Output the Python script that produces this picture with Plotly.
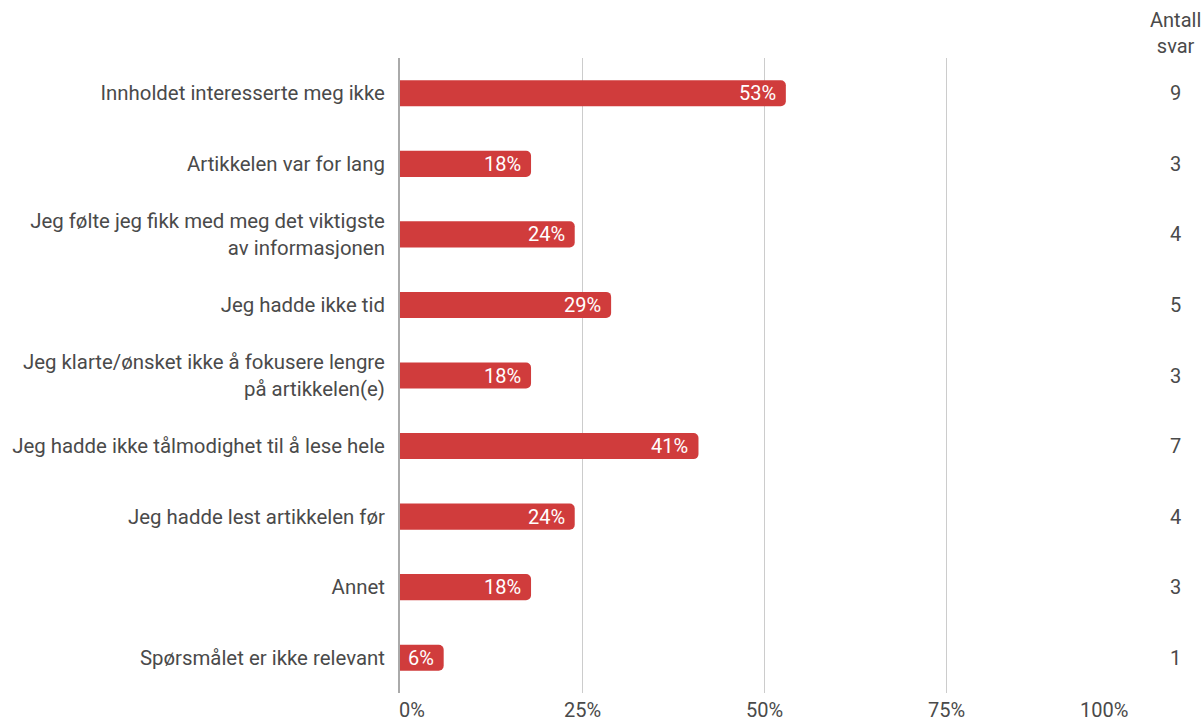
import plotly.graph_objects as go

categories = [
    "Innholdet interesserte meg ikke",
    "Artikkelen var for lang",
    "Jeg følte jeg fikk med meg det viktigste<br>av informasjonen",
    "Jeg hadde ikke tid",
    "Jeg klarte/ønsket ikke å fokusere lengre<br>på artikkelen(e)",
    "Jeg hadde ikke tålmodighet til å lese hele",
    "Jeg hadde lest artikkelen før",
    "Annet",
    "Spørsmålet er ikke relevant",
]
percent = [53, 18, 24, 29, 18, 41, 24, 18, 6]
counts = [9, 3, 4, 5, 3, 7, 4, 3, 1]
tick_vals = [0, 25, 50, 75, 100]
tick_text = ["0%", "25%", "50%", "75%", "100%"]
count_header = "Antall<br>svar"

RED = "#d03c3c"
TXT = "#4a4a4a"
FS = 20
FONT = "Roboto"

fig = go.Figure(go.Bar(
    x=percent, y=categories, orientation="h",
    marker=dict(color=RED, cornerradius=5, line=dict(width=0)),
    hoverinfo="skip",
))

# value labels inside bar ends
for c, v in zip(categories, percent):
    fig.add_annotation(x=v, xref="x", y=c, yref="y", text=f"{v}%",
                       showarrow=False, xanchor="right", xshift=-8,
                       font=dict(size=FS, color="white", family=FONT))

for c, n in zip(categories, counts):
    fig.add_annotation(x=1.0646, xref="paper", y=c, yref="y", text=str(n),
                       showarrow=False, font=dict(size=FS, color=TXT, family=FONT),
                       xanchor="center")
fig.add_annotation(x=1.0646, xref="paper", y=1.0, yref="paper", yanchor="bottom", yshift=-2,
                   text=count_header, showarrow=False, align="center", xanchor="center",
                   font=dict(size=FS, color=TXT, family=FONT))

# x tick labels (end labels kept inside the plot width, as in the reference)
anchors = ["left", "center", "center", "center", "right"]
shifts = [-3, 0, 0, 0, 2]
for v, t, a, s in zip(tick_vals, tick_text, anchors, shifts):
    fig.add_annotation(x=v, xref="x", y=0, yref="paper", yanchor="top", yshift=-3,
                       xanchor=a, xshift=s, text=t, showarrow=False,
                       font=dict(size=FS, color=TXT, family=FONT))

fig.update_layout(
    width=1202, height=722,
    margin=dict(l=400, r=74, t=58, b=29),
    paper_bgcolor="white", plot_bgcolor="white",
    bargap=0.63, showlegend=False,
    font=dict(family=FONT, size=FS, color=TXT),
)
fig.update_xaxes(range=[0, 100], tickvals=tick_vals, showticklabels=False,
                 showgrid=True, gridcolor="#cccccc", gridwidth=1,
                 zeroline=False, showline=False, ticks="")
fig.update_yaxes(autorange="reversed", showgrid=False, ticks="",
                 showline=True, linecolor="#aaaaaa", linewidth=2,
                 ticklabelstandoff=9,
                 tickfont=dict(size=20.4, color=TXT, family=FONT))

fig.write_html("out.html")
